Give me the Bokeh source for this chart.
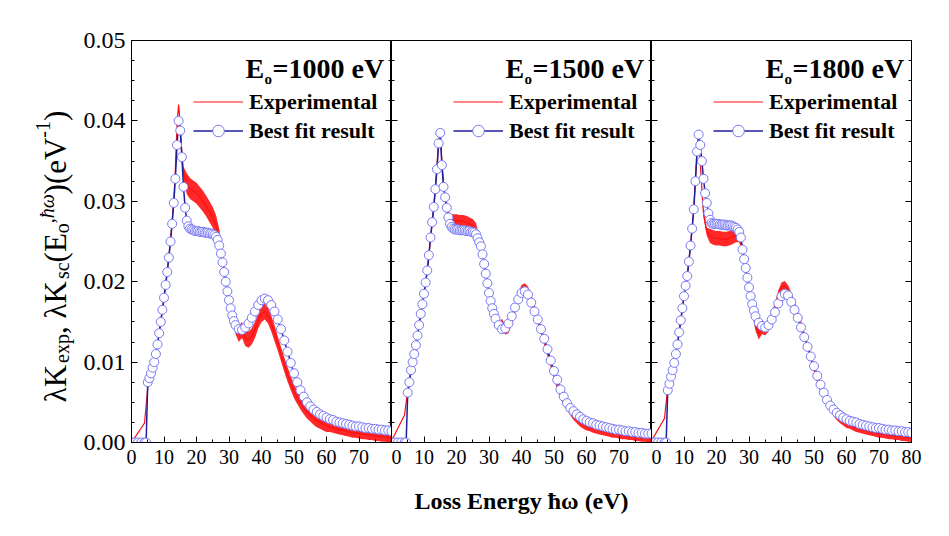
import math
from bokeh.plotting import figure
from bokeh.layouts import row
from bokeh.models import (Range1d, FixedTicker, PrintfTickFormatter, CustomJSTickFormatter,
                          LinearAxis, Label, Legend, LegendItem)
from bokeh.embed import file_html
from bokeh.resources import INLINE

# ---------------------------------------------------------------- data
PANEL_LABELS = ["=1000 eV", "=1500 eV", "=1800 eV"]
Y_TICKS = [0.0, 0.01, 0.02, 0.03, 0.04, 0.05]
X_TICKS_A = [0, 10, 20, 30, 40, 50, 60, 70]
X_TICKS_B = [0, 10, 20, 30, 40, 50, 60, 70, 80]
X_MINOR = [5, 15, 25, 35, 45, 55, 65, 75]

# loss energy grid of the best-fit points (eV)
FIT_E = [0, 1, 2, 3, 4, 4.5,
         5, 5.5, 6, 6.5, 7, 7.5, 8, 8.5, 9, 9.5,
         10, 10.5, 11, 11.5, 12, 12.5, 13, 13.5, 14, 14.5,
         15, 15.5, 16, 16.5, 17, 17.5, 18, 18.5, 19, 19.5,
         20, 20.5, 21, 21.5, 22, 22.5, 23, 23.5, 24, 24.5,
         25, 25.5, 26, 26.5, 27, 27.5, 28, 28.5, 29, 29.5,
         30, 30.5, 31, 31.5, 32,
         33, 34, 35, 36, 37, 38, 39, 40, 41, 42,
         43, 44, 45, 46, 47, 48, 49, 50, 51, 52,
         53, 54, 55, 56, 57, 58, 59, 60, 61, 62,
         63, 64, 65, 66, 67, 68, 69, 70, 71, 72,
         73, 74, 75, 76, 77, 78, 79, 80]

FIT_1000 = [0, 0, 0, 0, 0, 0,
            0.0075, 0.0080, 0.0086, 0.0093, 0.0100, 0.0110, 0.0122, 0.0136, 0.0150, 0.0165,
            0.0180, 0.0196, 0.0212, 0.0230, 0.0250, 0.0272, 0.0298, 0.0328, 0.0370, 0.0400,
            0.0388, 0.0355, 0.0318, 0.0292, 0.0276, 0.0269, 0.0266, 0.0265, 0.0264, 0.0263,
            0.0263, 0.0263, 0.0262, 0.0262, 0.0262, 0.0261, 0.0261, 0.0261, 0.0260, 0.0260,
            0.0259, 0.0258, 0.0256, 0.0252, 0.0245, 0.0235, 0.0224, 0.0212, 0.0200, 0.0188,
            0.0177, 0.0167, 0.0158, 0.0151, 0.0146,
            0.0141, 0.0140, 0.0143, 0.0148, 0.0155, 0.0163, 0.0171, 0.0177, 0.0179, 0.0177,
            0.0171, 0.0163, 0.0153, 0.0141, 0.0127, 0.0113, 0.0099, 0.0086, 0.0075, 0.0065,
            0.0057, 0.0050, 0.0045, 0.0041, 0.0038, 0.0035, 0.0033, 0.0031, 0.0029, 0.0028,
            0.0026, 0.0025, 0.0024, 0.0023, 0.0022, 0.0021, 0.0020, 0.0020, 0.0019, 0.0018,
            0.0018, 0.0017, 0.0017, 0.0016, 0.0016, 0.0015, 0.0015, 0.0014]

FIT_1500 = [0, 0, 0, 0, 0, 0,
            0.0062, 0.0075, 0.0090, 0.0100, 0.0110, 0.0121, 0.0133, 0.0146, 0.0160, 0.0172,
            0.0185, 0.0199, 0.0214, 0.0233, 0.0255, 0.0274, 0.0293, 0.0315, 0.0340, 0.0372,
            0.0385, 0.0345, 0.0318, 0.0305, 0.0292, 0.0280, 0.0272, 0.0268, 0.0266, 0.0265,
            0.0265, 0.0265, 0.0264, 0.0264, 0.0264, 0.0264, 0.0263, 0.0263, 0.0263, 0.0262,
            0.0262, 0.0261, 0.0259, 0.0254, 0.0249, 0.0244, 0.0234, 0.0222, 0.0210, 0.0198,
            0.0186, 0.0176, 0.0167, 0.0160, 0.0154,
            0.0146, 0.0141, 0.0142, 0.0148, 0.0157, 0.0168, 0.0178, 0.0186, 0.0188, 0.0184,
            0.0174, 0.0163, 0.0153, 0.0141, 0.0129, 0.0116, 0.0102, 0.0089, 0.0078, 0.0066,
            0.0057, 0.0049, 0.0043, 0.0039, 0.0035, 0.0032, 0.0029, 0.0027, 0.0025, 0.0024,
            0.0022, 0.0021, 0.0020, 0.0019, 0.0018, 0.0017, 0.0016, 0.0016, 0.0015, 0.0014,
            0.0014, 0.0013, 0.0013, 0.0012, 0.0012, 0.0011, 0.0011, 0.0011]

FIT_1800 = [0, 0, 0, 0, 0, 0,
            0.0065, 0.0073, 0.0082, 0.0090, 0.0099, 0.0110, 0.0122, 0.0137, 0.0152, 0.0167,
            0.0182, 0.0195, 0.0207, 0.0225, 0.0245, 0.0266, 0.0290, 0.0325, 0.0362, 0.0383,
            0.0370, 0.0350, 0.0328, 0.0310, 0.0298, 0.0285, 0.0277, 0.0273, 0.0272, 0.0272,
            0.0272, 0.0272, 0.0271, 0.0271, 0.0271, 0.0271, 0.0270, 0.0270, 0.0270, 0.0270,
            0.0269, 0.0268, 0.0267, 0.0265, 0.0262, 0.0255, 0.0240, 0.0228, 0.0217, 0.0205,
            0.0193, 0.0182, 0.0172, 0.0164, 0.0157,
            0.0149, 0.0145, 0.0143, 0.0146, 0.0153, 0.0162, 0.0173, 0.0182, 0.0185, 0.0183,
            0.0175, 0.0165, 0.0155, 0.0143, 0.0131, 0.0119, 0.0107, 0.0095, 0.0083, 0.0072,
            0.0062, 0.0053, 0.0046, 0.0041, 0.0037, 0.0034, 0.0031, 0.0029, 0.0027, 0.0026,
            0.0025, 0.0023, 0.0022, 0.0021, 0.0020, 0.0019, 0.0018, 0.0018, 0.0017, 0.0016,
            0.0016, 0.0015, 0.0015, 0.0014, 0.0014, 0.0013, 0.0013, 0.0012]

# loss energy grid of the experimental spectra (eV)
EXP_E = [0, 1, 2, 3, 4, 5, 6, 7, 8, 9, 10, 11, 12, 13,
         13.5, 14, 14.5, 15, 15.5,
         16, 17, 18, 19, 20, 21, 22, 23, 24, 25,
         26, 27, 28, 29, 30, 31, 32, 33, 34, 35,
         36, 37, 38, 39, 40, 41, 42, 43, 44, 45,
         46, 47, 48, 49, 50, 51, 52, 53, 54, 55,
         56, 57, 58, 59, 60, 61, 62, 63, 64, 65,
         66, 67, 68, 69, 70, 71, 72, 73, 74, 75,
         76, 77, 78, 79, 80]

EXP_1000 = [0.0000, 0.0006, 0.0012, 0.0018, 0.0024, 0.0068, 0.0086, 0.0100, 0.0122, 0.0150,
            0.0180, 0.0213, 0.0252, 0.0300,
            0.0340, 0.0395, 0.0420, 0.0395, 0.0360,
            0.0335, 0.0322, 0.0316, 0.0313, 0.0310, 0.0305, 0.0300, 0.0294, 0.0287, 0.0280,
            0.0270, 0.0254, 0.0228, 0.0200, 0.0180, 0.0160, 0.0143, 0.0135, 0.0140, 0.0130,
            0.0128, 0.0132, 0.0140, 0.0152, 0.0160, 0.0163, 0.0158, 0.0148, 0.0136, 0.0123,
            0.0110, 0.0097, 0.0085, 0.0074, 0.0064, 0.0056, 0.0049, 0.0043, 0.0038, 0.0034,
            0.0030, 0.0027, 0.0025, 0.0023, 0.0021, 0.0019, 0.0018, 0.0017, 0.0016, 0.0015,
            0.0014, 0.0013, 0.0012, 0.0012, 0.0011, 0.0010, 0.0010, 0.0009, 0.0009, 0.0008,
            0.0008, 0.0007, 0.0007, 0.0006, 0.0006]
# half width of the noise band, in units of 1e-4
NOISE_1000 = [0, 0, 0, 0, 0, 2, 2, 2, 2, 2, 2, 2, 2, 2,
              3, 3, 3, 3, 3,
              8, 13, 13, 13, 13, 13, 13, 13, 13, 13,
              13, 12, 8, 8, 8, 8, 8, 10, 10, 10,
              10, 10, 10, 10, 10, 10, 10, 10, 10, 9,
              9, 9, 9, 9, 9, 8, 8, 8, 8, 8,
              8, 8, 8, 8, 8, 6, 6, 6, 6, 6,
              6, 6, 6, 6, 6, 6, 6, 6, 6, 6,
              6, 6, 6, 6, 6]

EXP_1500 = [0.0003, 0.0010, 0.0018, 0.0026, 0.0034, 0.0065, 0.0088, 0.0110, 0.0133, 0.0158,
            0.0184, 0.0213, 0.0252, 0.0292,
            0.0318, 0.0345, 0.0375, 0.0383, 0.0350,
            0.0322, 0.0290, 0.0276, 0.0276, 0.0276, 0.0275, 0.0275, 0.0274, 0.0272, 0.0270,
            0.0265, 0.0252, 0.0235, 0.0210, 0.0185, 0.0165, 0.0150, 0.0143, 0.0148, 0.0140,
            0.0142, 0.0152, 0.0166, 0.0180, 0.0190, 0.0192, 0.0188, 0.0178, 0.0166, 0.0153,
            0.0140, 0.0126, 0.0112, 0.0098, 0.0084, 0.0072, 0.0061, 0.0052, 0.0046, 0.0040,
            0.0034, 0.0030, 0.0026, 0.0023, 0.0021, 0.0019, 0.0017, 0.0016, 0.0015, 0.0014,
            0.0013, 0.0012, 0.0011, 0.0011, 0.0010, 0.0009, 0.0009, 0.0008, 0.0008, 0.0007,
            0.0007, 0.0006, 0.0006, 0.0005, 0.0005]
NOISE_1500 = [0, 0, 0, 0, 0, 2, 2, 2, 2, 2, 2, 2, 2, 2,
              3, 3, 3, 3, 3,
              5, 5, 8, 8, 8, 8, 8, 8, 8, 8,
              8, 5, 5, 5, 5, 5, 5, 6, 6, 6,
              6, 6, 6, 6, 6, 6, 6, 6, 6, 5,
              5, 5, 5, 5, 5, 6, 6, 6, 6, 6,
              6, 6, 6, 6, 6, 5, 5, 5, 5, 5,
              5, 5, 5, 5, 5, 5, 5, 5, 5, 5,
              5, 5, 5, 5, 5]

EXP_1800 = [0.0002, 0.0009, 0.0016, 0.0023, 0.0030, 0.0068, 0.0084, 0.0100, 0.0122, 0.0152,
            0.0182, 0.0207, 0.0245, 0.0290,
            0.0325, 0.0360, 0.0372, 0.0350, 0.0315,
            0.0285, 0.0262, 0.0257, 0.0255, 0.0254, 0.0254, 0.0253, 0.0253, 0.0254, 0.0256,
            0.0258, 0.0255, 0.0240, 0.0215, 0.0188, 0.0165, 0.0145, 0.0135, 0.0142, 0.0140,
            0.0145, 0.0155, 0.0168, 0.0183, 0.0193, 0.0195, 0.0190, 0.0181, 0.0170, 0.0158,
            0.0146, 0.0133, 0.0120, 0.0106, 0.0092, 0.0080, 0.0069, 0.0060, 0.0052, 0.0045,
            0.0039, 0.0034, 0.0030, 0.0027, 0.0024, 0.0022, 0.0020, 0.0018, 0.0017, 0.0016,
            0.0015, 0.0014, 0.0013, 0.0012, 0.0011, 0.0011, 0.0010, 0.0009, 0.0009, 0.0008,
            0.0008, 0.0007, 0.0007, 0.0006, 0.0006]
NOISE_1800 = [0, 0, 0, 0, 0, 2, 2, 2, 2, 2, 2, 2, 2, 2,
              3, 3, 3, 3, 3,
              5, 5, 9, 9, 9, 9, 9, 9, 9, 9,
              9, 6, 6, 6, 6, 6, 6, 7, 7, 7,
              7, 7, 6, 6, 6, 6, 6, 6, 6, 5,
              5, 5, 5, 5, 5, 6, 6, 6, 6, 6,
              6, 6, 6, 6, 6, 5, 5, 5, 5, 5,
              5, 5, 5, 5, 5, 5, 5, 5, 5, 5,
              5, 5, 5, 5, 5]

PANELS = [(EXP_1000, NOISE_1000, FIT_1000),
          (EXP_1500, NOISE_1500, FIT_1500),
          (EXP_1800, NOISE_1800, FIT_1800)]

for e, n, f in PANELS:
    assert len(e) == len(EXP_E) == len(n), (len(e), len(n), len(EXP_E))
    assert len(f) == len(FIT_E), (len(f), len(FIT_E))

# ---------------------------------------------------------------- layout / style
FONT = "Liberation Serif"
H = 536
FRAME_W = 260
FRAME_H = 402
TOP = 40
BOTTOM = 94
LABEL_COL = 80
Y_LEFT = 51
RIGHT3 = 38

RED = "#ff1010"
NAVY = "#1e1e9a"
CIRCLE = "#7878f6"

blank = CustomJSTickFormatter(code="return ''")


def px_x(px):
    return px * 80.0 / FRAME_W


def px_y(px_from_top):
    return 0.05 - px_from_top * 0.05 / FRAME_H


def style_axis(ax, size):
    ax.axis_line_color = "black"
    ax.axis_line_width = 1
    ax.major_tick_in = 6
    ax.major_tick_out = 0
    ax.minor_tick_in = 3
    ax.minor_tick_out = 0
    ax.major_tick_line_color = "black"
    ax.minor_tick_line_color = "black"
    ax.major_label_text_font = FONT
    ax.major_label_text_font_size = size
    ax.major_label_text_color = "black"


def y_ticker():
    return FixedTicker(ticks=Y_TICKS, minor_ticks=[k * 0.0025 for k in range(21)])


panels = []
for i, ((exp_v, noise, fit_v), lab) in enumerate(zip(PANELS, PANEL_LABELS)):
    first, last = i == 0, i == 2
    w = FRAME_W + (Y_LEFT if first else 0) + (RIGHT3 if last else 0)
    p = figure(width=w, height=H, x_range=Range1d(0, 80), y_range=Range1d(0, 0.05),
               output_backend="svg", toolbar_location=None,
               min_border=0, min_border_left=Y_LEFT if first else 0,
               min_border_right=RIGHT3 if last else 0,
               min_border_top=TOP, min_border_bottom=BOTTOM)
    p.grid.visible = False
    p.outline_line_color = "black"
    p.outline_line_width = 1
    p.background_fill_color = "white"
    p.border_fill_color = "white"

    # x axis
    xa = p.xaxis[0]
    xa.ticker = FixedTicker(ticks=X_TICKS_B if last else X_TICKS_A, minor_ticks=X_MINOR)
    style_axis(xa, "20px")
    xa.major_label_standoff = 7
    if i == 1:
        xa.axis_label = "Loss Energy ħω (eV)"
        xa.axis_label_text_font = FONT
        xa.axis_label_text_font_style = "bold"
        xa.axis_label_text_font_size = "24px"
        xa.axis_label_text_color = "black"
        xa.axis_label_standoff = 21

    # left y axis
    ya = p.yaxis[0]
    ya.ticker = y_ticker()
    style_axis(ya, "24px")
    if first:
        ya.formatter = PrintfTickFormatter(format="%.2f")
        ya.major_label_standoff = 6
    else:
        ya.formatter = blank
        ya.major_label_standoff = 0

    # right y axis (ticks only)
    ra = LinearAxis(ticker=y_ticker(), formatter=blank)
    style_axis(ra, "24px")
    ra.major_label_standoff = 0
    p.add_layout(ra, "right")

    lo = [v - n * 1e-4 for v, n in zip(exp_v, noise)]
    hi = [v + n * 1e-4 for v, n in zip(exp_v, noise)]
    p.varea(x=EXP_E, y1=lo, y2=hi, fill_color=RED, fill_alpha=0.9)
    exp_line = p.line(EXP_E, exp_v, line_color=RED, line_width=1.2)
    fit_line = p.line(FIT_E, fit_v, line_color=NAVY, line_width=1.5)
    fit_pts = p.scatter(FIT_E, fit_v, marker="circle", size=9, line_color=CIRCLE,
                        line_width=1.0, fill_color="white")

    legend = Legend(items=[LegendItem(label="Experimental", renderers=[exp_line]),
                           LegendItem(label="Best fit result", renderers=[fit_line, fit_pts])],
                    location=(62, 297), orientation="vertical", padding=0, margin=0, spacing=0,
                    glyph_width=50, glyph_height=29, label_height=29, label_standoff=6,
                    label_text_font=FONT, label_text_font_style="bold",
                    label_text_font_size="22px", label_text_color="black",
                    border_line_color=None, background_fill_alpha=0)
    p.add_layout(legend)

    common = dict(text_font=FONT, text_font_style="bold", text_color="black",
                  text_align="left", text_baseline="alphabetic")
    p.add_layout(Label(x=px_x(114), y=px_y(28), text="E", text_font_size="28px", **common))
    p.add_layout(Label(x=px_x(133), y=px_y(38), text="o", text_font_size="15px", **common))
    p.add_layout(Label(x=px_x(141), y=px_y(28), text=lab, text_font_size="28px", **common))
    panels.append(p)

# ---------------------------------------------------------------- y axis title column
# its frame is aligned with the panels' frames, so one data unit = one pixel inside it
ylab = figure(width=LABEL_COL, height=H, x_range=Range1d(0, LABEL_COL),
              y_range=Range1d(0, FRAME_H),
              output_backend="svg", toolbar_location=None, min_border=0,
              min_border_top=TOP, min_border_bottom=BOTTOM,
              x_axis_type=None, y_axis_type=None)
ylab.outline_line_color = None
ylab.grid.visible = False

W_REG = {"λ": 0.55, "K": 0.722, "e": 0.444, "x": 0.5, "p": 0.5, ",": 0.25, " ": 0.25,
         "s": 0.389, "c": 0.444, "(": 0.333, ")": 0.333, "E": 0.611, "o": 0.5,
         "ħ": 0.5, "ω": 0.686, "V": 0.722, "-": 0.333, "1": 0.5}
BIG, SMALL = 31, 20
pieces = [("λK", BIG, "normal", 0), ("exp", SMALL, "normal", 6),
          (", λK", BIG, "normal", 0), ("sc", SMALL, "normal", 6),
          ("(E", BIG, "normal", 0), ("o", SMALL, "normal", 6),
          (",ħω", SMALL, "italic", -9), (")(eV", BIG, "normal", 0),
          ("-1", SMALL, "normal", -13), (")", BIG, "normal", 0)]
widths = [sum(W_REG.get(c, 0.5) for c in s) * sz for s, sz, _, _ in pieces]
total = sum(widths)
center_y = (TOP + FRAME_H) - 256      # page row 256, measured from the frame bottom
base_x = 55
ycur = center_y - total / 2
for (s, sz, st, shift), w in zip(pieces, widths):
    ylab.add_layout(Label(x=base_x + shift, y=ycur, text=s, angle=math.pi / 2,
                          text_font=FONT, text_font_style=st, text_font_size=f"{sz}px",
                          text_color="black", text_align="left", text_baseline="alphabetic"))
    ycur += w

layout = row(ylab, *panels, spacing=0)
open("out.html", "w").write(file_html(layout, INLINE))
